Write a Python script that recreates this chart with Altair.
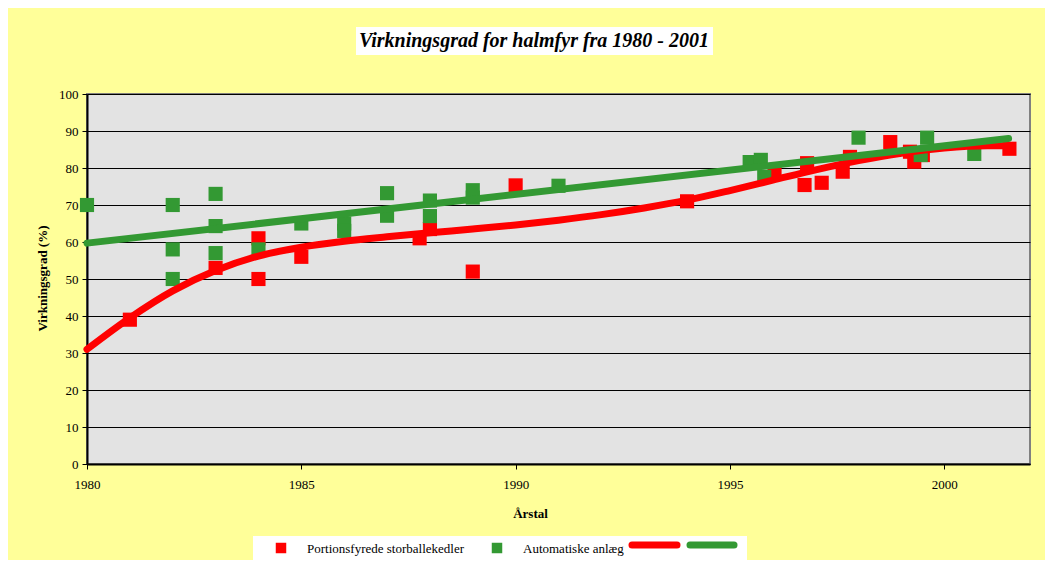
import altair as alt
import pandas as pd

# ---------------- data ----------------
series_names = ["Portionsfyrede storballekedler", "Automatiske anlæg"]

red_years = [1981, 1983, 1984, 1984, 1985, 1987.76, 1988, 1989, 1990, 1994,
             1996.04, 1996.74, 1996.8, 1997.14, 1997.63, 1997.8, 1998.74,
             1999.2, 1999.3, 1999.5, 2001.52]
red_vals = [39, 53, 61, 50, 56, 61, 63.5, 52, 75.3, 71,
            78.6, 75.4, 81.3, 76, 79, 83, 87,
            84.4, 81.7, 83.5, 85.2]

green_years = [1980, 1982, 1982, 1982, 1983, 1983, 1983, 1984, 1985, 1986, 1986,
               1987, 1987, 1988, 1988, 1989, 1989, 1991,
               1995.46, 1995.72, 1995.8, 1998.0, 1999.45, 1999.6, 2000.7]
green_vals = [70, 70, 58, 50, 73, 64.3, 57, 58, 65, 65, 63,
              73.2, 67.1, 71.2, 67, 74, 72, 75.2,
              81.6, 82.2, 77.6, 88.2, 83.5, 88.2, 83.8]

red_trend_years = [1980, 1981, 1982, 1983, 1984, 1985, 1986, 1987, 1988, 1989,
                   1990, 1991, 1992, 1993, 1994, 1995, 1996, 1997, 1998, 1999,
                   2000, 2001, 2001.5]
red_trend_vals = [31, 39.5, 46.8, 52.3, 56.2, 58.6, 60.2, 61.4, 62.5, 63.5,
                  64.6, 65.9, 67.4, 69.2, 71.3, 73.9, 76.7, 79.5, 82.0, 84.0,
                  85.4, 86.0, 86.0]

green_trend_years = [1980, 2001.5]
green_trend_vals = [59.7, 88.0]

title_text = "Virkningsgrad for halmfyr fra 1980 - 2001"
x_title = "Årstal"
y_title = "Virkningsgrad (%)"
x_ticks = [1980, 1985, 1990, 1995, 2000]
y_ticks = [0, 10, 20, 30, 40, 50, 60, 70, 80, 90, 100]

# ---------------- styling ----------------
RED = "#FF0000"
GREEN = "#339933"
FONT = "Times New Roman, Liberation Serif, DejaVu Serif, serif"
W, H = 943, 370

red_df = pd.DataFrame({"year": red_years, "value": red_vals, "series": series_names[0]})
green_df = pd.DataFrame({"year": green_years, "value": green_vals, "series": series_names[1]})
red_tr = pd.DataFrame({"year": red_trend_years, "value": red_trend_vals})
green_tr = pd.DataFrame({"year": green_trend_years, "value": green_trend_vals})
one = pd.DataFrame({"k": [0]})

x_enc = alt.X(
    "year:Q",
    scale=alt.Scale(domain=[1980, 2002], nice=False, zero=False),
    axis=alt.Axis(
        values=x_ticks, format="d", title=x_title, grid=False,
        domainColor="black", domainWidth=2, tickColor="black", tickSize=5,
        labelFont=FONT, labelFontSize=13, labelColor="black", labelPadding=9,
        labelFlush=False,
        titleFont=FONT, titleFontSize=13, titleFontWeight="bold", titleColor="black",
        titleX=443, titleY=49, titleBaseline="middle", titleAlign="center",
    ),
)
y_enc = alt.Y(
    "value:Q",
    scale=alt.Scale(domain=[0, 100], nice=False),
    axis=alt.Axis(
        values=y_ticks, title=y_title, grid=True, gridColor="black", gridWidth=1,
        domainColor="black", domainWidth=2, tickColor="black", tickSize=5,
        labelFont=FONT, labelFontSize=13, labelColor="black", labelPadding=4,
        titleFont=FONT, titleFontSize=13, titleFontWeight="bold", titleColor="black",
        titleX=-45, titleY=184, titleAngle=270, titleBaseline="middle", titleAlign="center",
    ),
)

red_pts = alt.Chart(red_df).mark_square(size=200, color=RED, opacity=1).encode(x=x_enc, y=y_enc)
green_pts = alt.Chart(green_df).mark_square(size=200, color=GREEN, opacity=1).encode(x=x_enc, y=y_enc)
red_line = alt.Chart(red_tr).mark_line(color=RED, strokeWidth=7, strokeCap="round",
                                       interpolate="monotone").encode(x=x_enc, y=y_enc)
green_line = alt.Chart(green_tr).mark_line(color=GREEN, strokeWidth=7,
                                           strokeCap="round").encode(x=x_enc, y=y_enc)

# title with white box
title_box = alt.Chart(one).mark_rect(color="white").encode(
    x=alt.value(269), x2=alt.value(626), y=alt.value(-67), y2=alt.value(-39))
title_txt = alt.Chart(one).mark_text(
    text=title_text, font=FONT, fontSize=20, fontStyle="italic", fontWeight="bold",
    color="black", align="center", baseline="middle").encode(
    x=alt.value(447), y=alt.value(-53))

# manual legend
leg_box = alt.Chart(one).mark_rect(color="white").encode(
    x=alt.value(166), x2=alt.value(660), y=alt.value(442), y2=alt.value(467))
leg_red_sq = alt.Chart(one).mark_square(size=110, color=RED, opacity=1).encode(
    x=alt.value(194), y=alt.value(454))
leg_red_tx = alt.Chart(one).mark_text(
    text=series_names[0], font=FONT, fontSize=13, color="black",
    align="left", baseline="middle").encode(x=alt.value(220), y=alt.value(455))
leg_green_sq = alt.Chart(one).mark_square(size=110, color=GREEN, opacity=1).encode(
    x=alt.value(410), y=alt.value(454))
leg_green_tx = alt.Chart(one).mark_text(
    text=series_names[1], font=FONT, fontSize=13, color="black",
    align="left", baseline="middle").encode(x=alt.value(436), y=alt.value(455))
leg_red_ln = alt.Chart(one).mark_rule(color=RED, strokeWidth=7, strokeCap="round").encode(
    x=alt.value(545), x2=alt.value(590), y=alt.value(451))
leg_green_ln = alt.Chart(one).mark_rule(color=GREEN, strokeWidth=7, strokeCap="round").encode(
    x=alt.value(603), x2=alt.value(647), y=alt.value(451))

chart = alt.layer(
    red_pts, green_pts, red_line, green_line,
    title_box, title_txt,
    leg_box, leg_red_sq, leg_red_tx, leg_green_sq, leg_green_tx, leg_red_ln, leg_green_ln,
).properties(
    width=W, height=H,
    autosize=alt.AutoSizeParams(type="none"),
    padding={"left": 79, "top": 86, "right": 15, "bottom": 96},
    background="#FFFF99",
).configure_view(
    fill="#E3E3E3", stroke="#808080", strokeWidth=2,
)

chart.save("out.html", embed_options={"renderer": "svg", "actions": False})
